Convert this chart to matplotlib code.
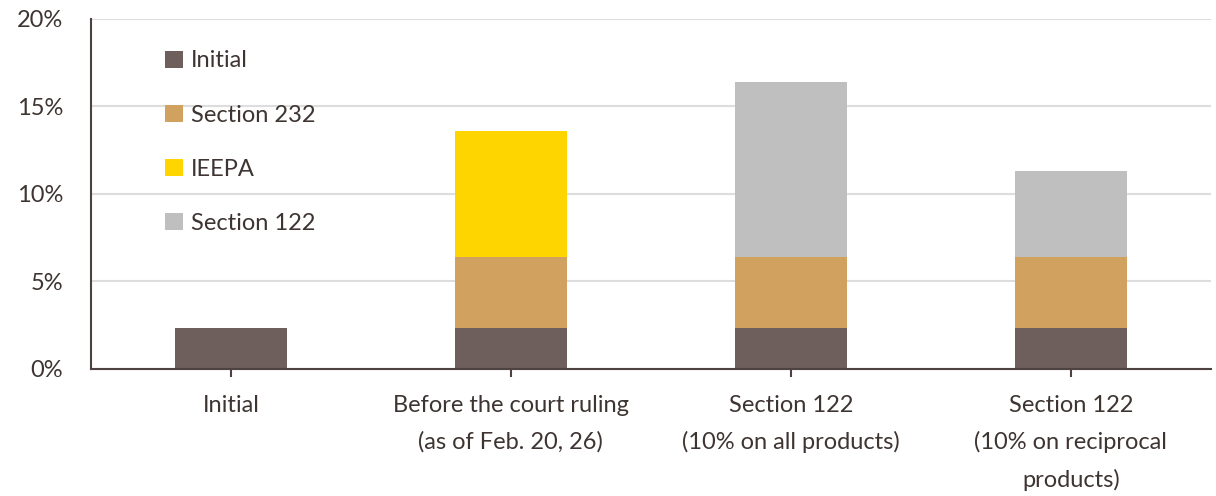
import matplotlib.pyplot as plt
import numpy as np

# data (% tariff rate)
categories = ['Initial',
              'Before the court ruling\n(as of Feb. 20, 26)',
              'Section 122\n(10% on all products)',
              'Section 122\n(10% on reciprocal\nproducts)']
series_names = ['Initial', 'Section 232', 'IEEPA', 'Section 122']
initial = [2.3, 2.3, 2.3, 2.3]
section_232 = [0.0, 4.1, 4.1, 4.1]
ieepa = [0.0, 7.2, 0.0, 0.0]
section_122 = [0.0, 0.0, 10.0, 4.9]
yticks = [0, 5, 10, 15, 20]

colors = ['#6e5e5c', '#d1a160', '#ffd500', '#bfbfbf']
text_color = '#3e3532'
axis_color = '#4d4240'

plt.rcParams['font.family'] = ['Lato', 'DejaVu Sans']
plt.rcParams['font.size'] = 17

fig = plt.figure(figsize=(12.16, 4.96), dpi=100)
ax = fig.add_axes([0.0748, 0.257, 0.921, 0.7047])

x = np.arange(len(categories))
bottom = np.zeros(len(categories))
for name, vals, col in zip(series_names, [initial, section_232, ieepa, section_122], colors):
    vals = np.array(vals)
    ax.bar(x, vals, width=0.4, bottom=bottom, color=col, label=name, zorder=3)
    bottom += vals

ax.set_xlim(-0.5, 3.5)
ax.set_ylim(0, 20)
ax.set_yticks(yticks)
ax.set_yticklabels([f'{v}%' for v in yticks], color=text_color)
ax.set_xticks(x)
ax.set_xticklabels(categories, color=text_color, linespacing=1.85)

ax.grid(axis='y', color='#dddddd', linewidth=1.5, zorder=0)
ax.tick_params(axis='y', length=0, pad=20)
ax.tick_params(axis='x', length=6, width=1.5, color=axis_color, pad=13)

for s in ['top', 'right']:
    ax.spines[s].set_visible(False)
for s in ['left', 'bottom']:
    ax.spines[s].set_color(axis_color)
    ax.spines[s].set_linewidth(1.5)
    ax.spines[s].set_zorder(4)

leg = ax.legend(loc='upper left', bbox_to_anchor=(0.066, 0.91), frameon=False,
                handlelength=0.76, handleheight=0.76, handletextpad=0.34,
                labelspacing=1.4, borderpad=0, borderaxespad=0)
for t in leg.get_texts():
    t.set_color(text_color)

fig.savefig('out.png', dpi=100)
